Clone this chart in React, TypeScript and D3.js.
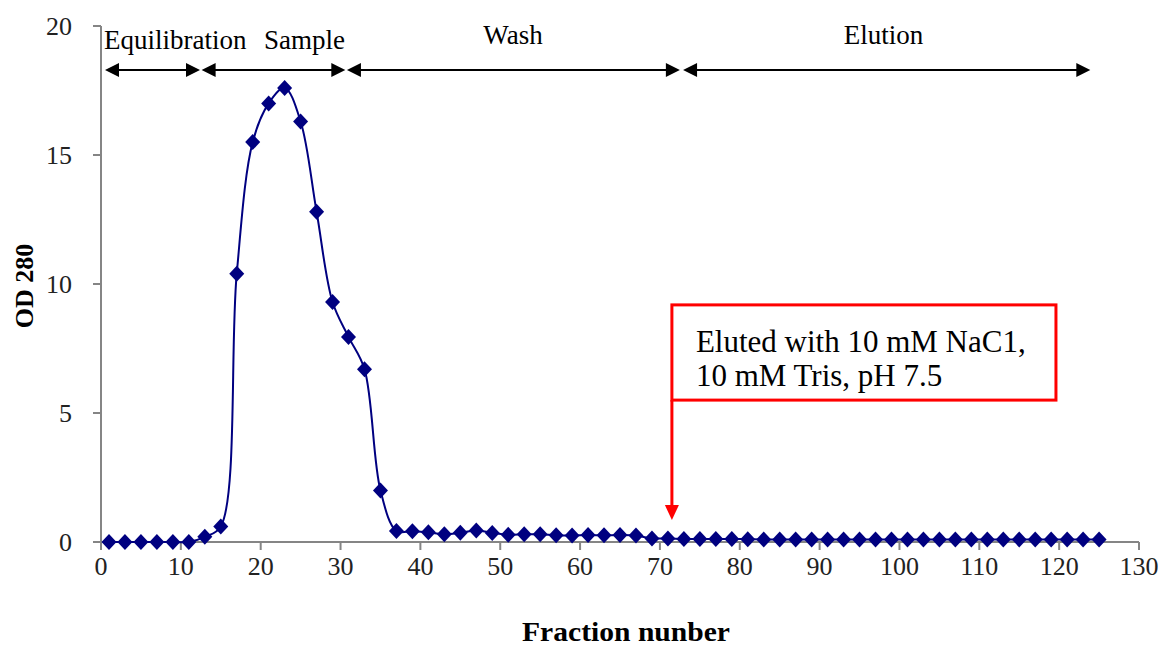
import React from "react";
import * as d3 from "d3";

const fractions: number[] = d3.range(1, 126, 2);
const od280: number[] = [
  0, 0, 0, 0, 0, 0, 0.2, 0.6, 10.4, 15.5, 17.0, 17.6, 16.3, 12.8, 9.3, 7.95, 6.7, 2.0,
  0.43, 0.42, 0.38, 0.3, 0.36, 0.45, 0.35, 0.28, 0.3, 0.3, 0.26, 0.25, 0.27, 0.26, 0.27, 0.25,
  0.14, 0.14, 0.12, 0.12, 0.12, 0.12, 0.11,
  0.1, 0.1, 0.1, 0.1, 0.1, 0.1, 0.1, 0.1, 0.1, 0.1, 0.1, 0.1, 0.1, 0.1, 0.1, 0.1, 0.1, 0.1, 0.1, 0.1, 0.1, 0.1,
];
const xTicks: number[] = d3.range(0, 131, 10);
const yTicks: number[] = [0, 5, 10, 15, 20];

const phaseNames: string[] = ["Equilibration", "Sample", "Wash", "Elution"];
const phaseStart: number[] = [0.5, 12.6, 30.8, 72.9];
const phaseEnd: number[] = [12.4, 30.6, 72.5, 123.9];
const phaseLabelX: number[] = [9.3, 25.5, 51.6, 98];
const phaseLabelDy: number[] = [0, 0, -5, -5];

const noteLines: string[] = ["Eluted with 10 mM NaC1,", "10 mM Tris, pH 7.5"];
const noteArrowX = 71.5;
const noteArrowTipY = 0.85;
const noteBox = { x0: 71.5, x1: 119.6, y0: 9.19, y1: 5.5 };

const FONT = "'Liberation Serif', 'Times New Roman', serif";

export default function App() {
  const W = 1163, H = 646;
  const x = d3.scaleLinear().domain([0, 130]).range([101, 1139]);
  const y = d3.scaleLinear().domain([0, 20]).range([542, 26]);
  const data = fractions.map((f, i) => ({ f, v: od280[i] }));
  const line = d3
    .line<{ f: number; v: number }>()
    .x((d) => x(d.f))
    .y((d) => y(d.v))
    .curve(d3.curveCatmullRom.alpha(0.5));
  const axisColor = "#858585";
  const arrowY = 70;
  const ah = 14, aw = 7;

  const tipY = y(noteArrowTipY);
  const ax = x(noteArrowX);

  return (
    <svg width={W} height={H} style={{ position: "absolute", left: 0, top: 0, background: "#fff" }}>
      <rect width={W} height={H} fill="#fff" />
      {/* axes */}
      <line x1={x(0)} x2={x(0)} y1={y(20)} y2={y(0)} stroke={axisColor} strokeWidth={2} />
      <line x1={x(0)} x2={x(130)} y1={y(0)} y2={y(0)} stroke={axisColor} strokeWidth={2} />
      {yTicks.map((t) => (
        <g key={"y" + t}>
          <line x1={x(0) - 8} x2={x(0)} y1={y(t)} y2={y(t)} stroke={axisColor} strokeWidth={2} />
          <text x={72} y={y(t)} dy="0.34em" textAnchor="end" fontSize={26} fill="#222" style={{ fontFamily: FONT }}>
            {t}
          </text>
        </g>
      ))}
      {xTicks.map((t) => (
        <g key={"x" + t}>
          <line x1={x(t)} x2={x(t)} y1={y(0)} y2={y(0) + 8} stroke={axisColor} strokeWidth={2} />
          <text x={x(t)} y={575} textAnchor="middle" fontSize={26} fill="#222" style={{ fontFamily: FONT }}>
            {t}
          </text>
        </g>
      ))}
      <text x={626} y={641} textAnchor="middle" fontSize={27} fontWeight="bold" textLength={208} lengthAdjust="spacingAndGlyphs" style={{ fontFamily: FONT }}>
        Fraction nunber
      </text>
      <text transform={`translate(33,286) rotate(-90)`} textAnchor="middle" fontSize={26} fontWeight="bold" style={{ fontFamily: FONT }}>
        OD 280
      </text>

      {/* phase arrows */}
      {phaseNames.map((n, i) => {
        const a = x(phaseStart[i]);
        const b = x(phaseEnd[i]);
        return (
          <g key={n}>
            <line x1={a + ah - 1} x2={b - ah + 1} y1={arrowY} y2={arrowY} stroke="#000" strokeWidth={2} />
            <path d={`M${a},${arrowY} L${a + ah},${arrowY - aw} L${a + ah},${arrowY + aw} Z`} fill="#000" />
            <path d={`M${b},${arrowY} L${b - ah},${arrowY - aw} L${b - ah},${arrowY + aw} Z`} fill="#000" />
            <text x={x(phaseLabelX[i])} y={49 + phaseLabelDy[i]} textAnchor="middle" fontSize={27} style={{ fontFamily: FONT }}>
              {n}
            </text>
          </g>
        );
      })}

      {/* data */}
      <path d={line(data) || ""} fill="none" stroke="#000080" strokeWidth={2} />
      {data.map((d, i) => (
        <path
          key={i}
          d={`M${x(d.f)},${y(d.v) - 8} L${x(d.f) + 7.5},${y(d.v)} L${x(d.f)},${y(d.v) + 8} L${x(d.f) - 7.5},${y(d.v)} Z`}
          fill="#000080"
        />
      ))}

      {/* annotation */}
      <line x1={ax} x2={ax} y1={y(noteBox.y1)} y2={tipY - 14} stroke="#ff0000" strokeWidth={3} />
      <path d={`M${ax},${tipY} L${ax - 7},${tipY - 15} L${ax + 7},${tipY - 15} Z`} fill="#ff0000" />
      <rect
        x={x(noteBox.x0)}
        y={y(noteBox.y0)}
        width={x(noteBox.x1) - x(noteBox.x0)}
        height={y(noteBox.y1) - y(noteBox.y0)}
        fill="#fff"
        stroke="#ff0000"
        strokeWidth={3}
      />
      {noteLines.map((l, i) => (
        <text key={i} x={x(noteBox.x0) + 24} y={352 + i * 34} fontSize={31} fill="#000" style={{ fontFamily: FONT }}>
          {l}
        </text>
      ))}
    </svg>
  );
}
